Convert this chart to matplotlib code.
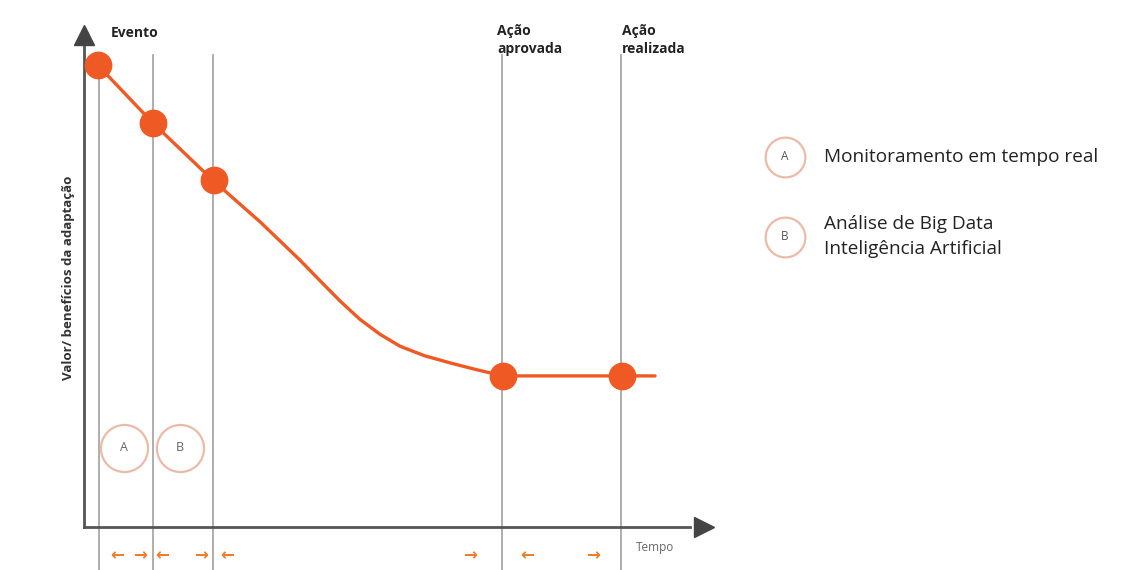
import matplotlib.pyplot as plt

plt.rcParams['font.family'] = ['Open Sans', 'DejaVu Sans']

# time (0-100) and value (0-100) of the curve
milestone_t = [2.4, 10.9, 20.4, 66.2, 85.1]
point_t = [2.2, 10.9, 20.6, 66.4, 85.3]
point_v = [92.0, 80.5, 69.1, 30.0, 30.1]

curve_t = [2.2, 10.9, 20.4, 27.9, 34.2, 38.0, 40.6, 43.7, 46.9, 50.1, 54.0, 58.0, 62.0, 66.4, 90.5]
curve_v = [92.0, 80.5, 69.1, 60.8, 53.2, 48.3, 45.0, 41.4, 38.4, 36.0, 34.1, 32.7, 31.4, 30.1, 30.1]

top_labels = ["Evento", "Ação\naprovada", "Ação\nrealizada"]
top_label_t = [4.2, 65.5, 85.3]
top_label_v = [98.5, 97.0, 97.0]

arrow_t = [5.2, 8.9, 12.3, 18.5, 22.7, 61.2, 70.2, 80.6]
arrow_dir = ["←", "→", "←", "→", "←", "→", "←", "→"]

legend_keys = ["A", "B"]
legend_texts = ["Monitoramento em tempo real", "Análise de Big Data\nInteligência Artificial"]

orange = "#EF5A24"
ring = "#EBBBA8"
axis_grey = "#555555"

fig = plt.figure(figsize=(11.34, 5.70), dpi=100)
ax = fig.add_axes([84 / 1134, 43 / 570, 631 / 1134, 502 / 570])
ax.set_xlim(0, 100)
ax.set_ylim(0, 100)
ax.axis('off')

# vertical guide lines
for t in milestone_t:
    ax.plot([t, t], [-8.6, 94.0], color="#A8A8A8", lw=1.3, clip_on=False, zorder=1)

# axes with arrow heads
ax.plot([0, 0], [0, 96], color=axis_grey, lw=2, clip_on=False, zorder=2)
ax.plot([0, 96], [0, 0], color=axis_grey, lw=2, clip_on=False, zorder=2)
ax.plot(0, 98, marker="^", ms=15, color="#444444", clip_on=False, zorder=3)
ax.plot(98.3, 0, marker=">", ms=15, color="#444444", clip_on=False, zorder=3)

# curve + points
ax.plot(curve_t, curve_v, color=orange, lw=2.4, clip_on=False, zorder=4,
        solid_joinstyle="round", solid_capstyle="round")
ax.scatter(point_t, point_v, s=360, color=orange, zorder=5, clip_on=False)

# top labels
for lab, t, v in zip(top_labels, top_label_t, top_label_v):
    ax.text(t, v, lab, fontsize=10, fontweight="bold", color="#222222",
            ha="left", va="center", linespacing=1.35, clip_on=False)

ax.text(-2.4, 49.6, "Valor/ benefícios da adaptação", rotation=90, fontsize=9.5,
        fontweight="bold", color="#333333", ha="center", va="center")
ax.text(87.5, -4, "Tempo", fontsize=8.5, color="#666666", ha="left", va="center")

# A / B rings on chart
ring_t = [6.4, 15.2]
for k, t in zip(legend_keys, ring_t):
    ax.scatter(t, 15.8, s=1150, facecolor="white", edgecolor=ring, lw=1.6, zorder=4)
    ax.text(t, 15.8, k, fontsize=9, color="#666666", ha="center", va="center", zorder=5)

# orange arrows below axis
for t, d in zip(arrow_t, arrow_dir):
    ax.text(t, -5.6, d, fontsize=12, color="#F07C2A", fontweight="bold",
            family="DejaVu Sans", ha="center", va="center", clip_on=False)

# legend
leg_v = [73.8, 57.8]
for k, txt, v in zip(legend_keys, legend_texts, leg_v):
    ax.scatter(111.1, v, s=820, facecolor="white", edgecolor=ring, lw=1.6, clip_on=False)
    ax.text(111.1, v, k, fontsize=8.5, color="#555555", ha="center", va="center", clip_on=False)
    ax.text(117.2, v, txt, fontsize=13.7, color="#222222", ha="left", va="center",
            linespacing=1.5, clip_on=False)

fig.savefig("out.png", dpi=100)
